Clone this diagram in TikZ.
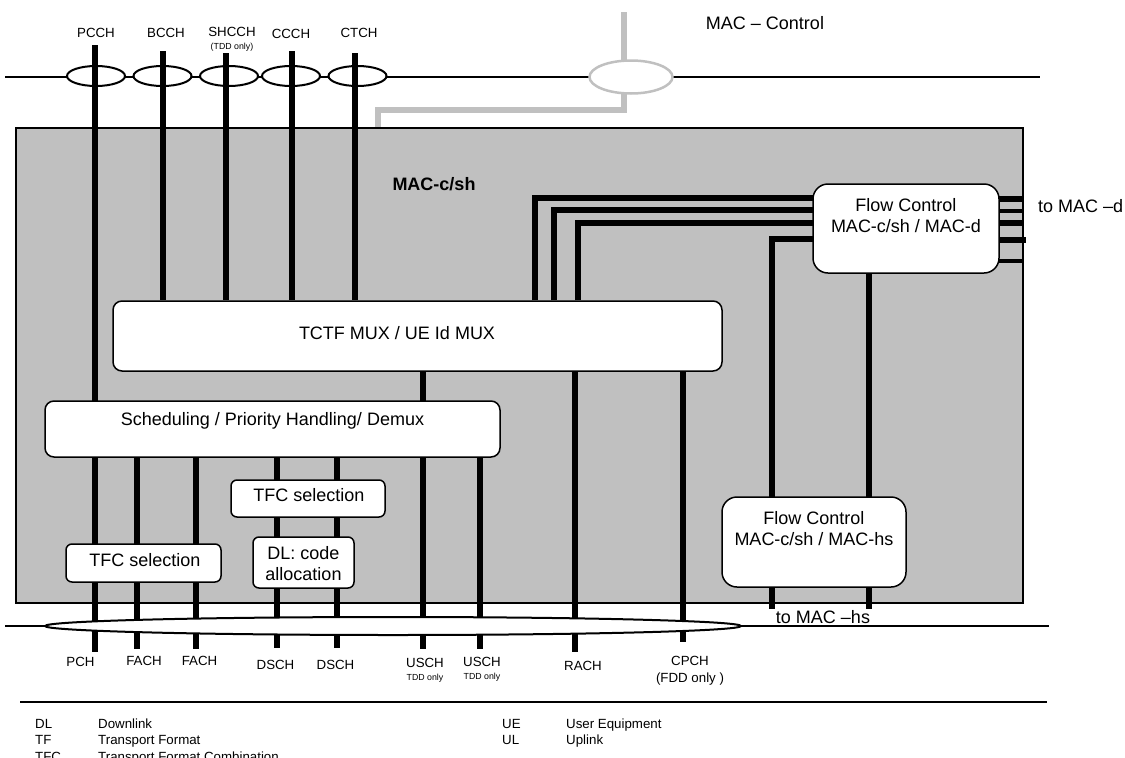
\documentclass[tikz,border=0pt]{standalone}
\usepackage{fontspec}
\setmainfont{Liberation Sans}
\usetikzlibrary{shapes.geometric}
\pgfdeclarelayer{bg}
\pgfdeclarelayer{wires}
\pgfsetlayers{bg,wires,main}
\definecolor{macgrey}{RGB}{192,192,192}
\begin{document}
\begin{tikzpicture}[x=1pt,y=-1pt,
  ch/.style={line width=6pt},
  chthin/.style={line width=4pt},
  gwire/.style={line width=5.5pt, draw=macgrey},
  rule/.style={line width=2pt},
  macbox/.style={draw, fill=macgrey, line width=1.5pt, inner sep=0pt},
  blk/.style={draw, fill=white, rounded corners=9pt, line width=1.5pt, inner sep=0pt},
  sblk/.style={draw, fill=white, rounded corners=6pt, line width=1.5pt, inner sep=0pt},
  fcbox/.style={draw, fill=white, rounded corners=15pt, line width=1.5pt, inner sep=0pt},
  oval/.style={ellipse, draw, fill=white, line width=2pt, minimum width=58pt, minimum height=20pt, inner sep=0pt},
  goval/.style={ellipse, draw=macgrey, fill=white, line width=2.5pt, minimum width=83pt, minimum height=33pt, inner sep=0pt},
  big/.style={font=\fontsize{18}{21}\selectfont, inner sep=0pt, text height=12.9pt, text depth=0pt},
  bigml/.style={font=\fontsize{18}{21}\selectfont, inner sep=0pt, align=center, anchor=north},
  sm/.style={font=\fontsize{13.3}{15}\selectfont, inner sep=0pt, text height=9.5pt, text depth=0pt},
  smw/.style={sm, anchor=west},
  tiny/.style={font=\fontsize{8.8}{10}\selectfont, inner sep=0pt, text height=6.3pt, text depth=0pt}
]
\useasboundingbox (0,0) rectangle (1125,758);

% ---------------- background layer ----------------
\begin{pgfonlayer}{bg}
  \node[macbox, minimum width=1007pt, minimum height=475pt] (mac) at (519.5,365.5) {};
  \coordinate (tlL) at (5,77);
  \coordinate (tlR) at (1040,77);
  \draw[rule] (tlL) -- (tlR);
  \coordinate (blL) at (5,626);
  \coordinate (blR) at (1049,626);
  \draw[rule] (blL) -- (blR);
  \coordinate (gtop) at (624,12);
  \coordinate (gbend) at (624,110);
  \coordinate (gin) at (378,110);
  \draw[gwire] (gtop) -- (gbend) -- (gin) -- (gin |- mac.north);
  \node[oval] (o1) at (96,76) {};
  \node[oval] (o2) at (162.5,76) {};
  \node[oval] (o3) at (229,76) {};
  \node[oval] (o4) at (291,76) {};
  \node[oval] (o5) at (357.5,76) {};
  \node[goval] (oc) at (631,77) {};
\end{pgfonlayer}

% ---------------- boxes ----------------
\node[blk, minimum width=609pt, minimum height=70pt] (mux) at (417.5,336) {};
\node[blk, minimum width=455pt, minimum height=56pt] (sched) at (272.5,429) {};
\node[sblk, minimum width=154pt, minimum height=37pt] (tfcR) at (308,498.5) {};
\node[sblk, minimum width=101pt, minimum height=51pt] (dlca) at (303.5,562.5) {};
\node[sblk, minimum width=155pt, minimum height=38pt] (tfcL) at (143.5,563) {};
\node[fcbox, minimum width=186pt, minimum height=89pt] (fcd) at (906,228.5) {};
\node[fcbox, minimum width=184pt, minimum height=90pt] (fchs) at (814,542) {};
\node[ellipse, draw, fill=white, line width=2pt, minimum width=696pt, minimum height=18pt, inner sep=0pt] (bell) at (393,626) {};

% ---------------- wires ----------------
\begin{pgfonlayer}{wires}
  % logical channels from the top
  \coordinate (pcchT) at (94.5,45);
  \coordinate (pchB) at (94.5,652);
  \draw[ch] (pcchT) -- (pchB);
  \coordinate (bcchT) at (163,51);
  \draw[ch] (bcchT) -- (bcchT |- mux.north);
  \coordinate (shcchT) at (226,53);
  \draw[ch] (shcchT) -- (shcchT |- mux.north);
  \coordinate (ccchT) at (292,51);
  \draw[ch] (ccchT) -- (ccchT |- mux.north);
  \coordinate (ctchT) at (355,53);
  \draw[ch] (ctchT) -- (ctchT |- mux.north);
  % MUX to flow control MAC-d
  \coordinate (d1) at (535,198);
  \coordinate (d2) at (554,210);
  \coordinate (d3) at (578,223);
  \draw[ch] (d1 |- mux.north) -- (d1) -- (d1 -| fcd.center);
  \draw[ch] (d2 |- mux.north) -- (d2) -- (d2 -| fcd.center);
  \draw[ch] (d3 |- mux.north) -- (d3) -- (d3 -| fcd.center);
  \coordinate (d4) at (772,239);
  \coordinate (hs1) at (772,609);
  \draw[ch] (d4 -| fcd.center) -- (d4) -- (hs1);
  \coordinate (hs2) at (869,609);
  \draw[ch] (hs2 |- fcd.center) -- (hs2);
  % to MAC-d
  \coordinate (md1) at (1022,199);
  \coordinate (md2) at (1022,211);
  \coordinate (md3) at (1022,223);
  \coordinate (md4) at (1026,240);
  \coordinate (md5) at (1022,261);
  \draw[ch] (md1 -| fcd.center) -- (md1);
  \draw[chthin] (md2 -| fcd.center) -- (md2);
  \draw[ch] (md3 -| fcd.center) -- (md3);
  \draw[ch] (md4 -| fcd.center) -- (md4);
  \draw[chthin] (md5 -| fcd.center) -- (md5);
  % MUX down
  \coordinate (usch1B) at (423,649);
  \draw[ch] (usch1B |- mux.south) -- (usch1B);
  \coordinate (rachB) at (575,652);
  \draw[ch] (rachB |- mux.south) -- (rachB);
  \coordinate (cpchB) at (683,642);
  \draw[ch] (cpchB |- mux.south) -- (cpchB);
  % scheduling down
  \coordinate (fach1B) at (137,649);
  \draw[ch] (fach1B |- sched.south) -- (fach1B);
  \coordinate (fach2B) at (196,649);
  \draw[ch] (fach2B |- sched.south) -- (fach2B);
  \coordinate (dsch1B) at (277,648);
  \draw[ch] (dsch1B |- sched.south) -- (dsch1B);
  \coordinate (dsch2B) at (337,648);
  \draw[ch] (dsch2B |- sched.south) -- (dsch2B);
  \coordinate (usch2B) at (480,649);
  \draw[ch] (usch2B |- sched.south) -- (usch2B);
\end{pgfonlayer}

% ---------------- texts ----------------
\node[sm] (tPCCH) at (96,33) {PCCH};
\node[sm] (tBCCH) at (166,33) {BCCH};
\node[sm] (tSHCCH) at (232,32) {SHCCH};
\node[tiny] (tSHtdd) at (232,46) {(TDD only)};
\node[sm] (tCCCH) at (291,34) {CCCH};
\node[sm] (tCTCH) at (359,33) {CTCH};
\node[big] (tctrl) at (765,23) {MAC -- Control};
\node[big, font=\fontsize{18}{21}\selectfont\bfseries] (tmac) at (434,184) {MAC-c/sh};
\node[big] (tmux) at (397,333) {TCTF MUX / UE Id MUX};
\node[big] (tsched) at (272.5,419) {Scheduling / Priority Handling/ Demux};
\node[big] (ttfcR) at (309,495) {TFC selection};
\node[bigml] (tdlca) at (303.5,546.5) {DL: code\\allocation};
\node[big] (ttfcL) at (145,560) {TFC selection};
\node[bigml] (tfcd) at (906,198.5) {Flow Control\\MAC-c/sh / MAC-d};
\node[bigml] (tfchs) at (814,511.5) {Flow Control\\MAC-c/sh / MAC-hs};
\node[big, anchor=west] (ttod) at (1038,206) {to MAC --d};
\node[big] (ttohs) at (823,617) {to MAC --hs};

\node[sm] (tPCH) at (80.5,662) {PCH};
\node[sm] (tFACH1) at (144,661) {FACH};
\node[sm] (tFACH2) at (199.5,661) {FACH};
\node[sm] (tDSCH1) at (275.5,665) {DSCH};
\node[sm] (tDSCH2) at (335.5,665) {DSCH};
\node[sm] (tUSCH1) at (425,663) {USCH};
\node[tiny] (tU1tdd) at (425,677) {TDD only};
\node[sm] (tUSCH2) at (482,662) {USCH};
\node[tiny] (tU2tdd) at (482,676) {TDD only};
\node[sm] (tRACH) at (583,666) {RACH};
\node[sm] (tCPCH) at (690,661) {CPCH};
\node[sm] (tCPfdd) at (690,678) {(FDD only )};

% separator and legend
\coordinate (sepL) at (20,702);
\coordinate (sepR) at (1047,702);
\draw[rule] (sepL) -- (sepR);
\node[smw] (lDL) at (35,724) {DL};
\node[smw] (lDLt) at (98,724) {Downlink};
\node[smw] (lTF) at (35,740) {TF};
\node[smw] (lTFt) at (98,740) {Transport Format};
\node[smw] (lTFC) at (35,757) {TFC};
\node[smw] (lTFCt) at (98,757) {Transport Format Combination};
\node[smw] (lUE) at (502,724) {UE};
\node[smw] (lUEt) at (566,724) {User Equipment};
\node[smw] (lUL) at (502,740) {UL};
\node[smw] (lULt) at (566,740) {Uplink};
\end{tikzpicture}
\end{document}
